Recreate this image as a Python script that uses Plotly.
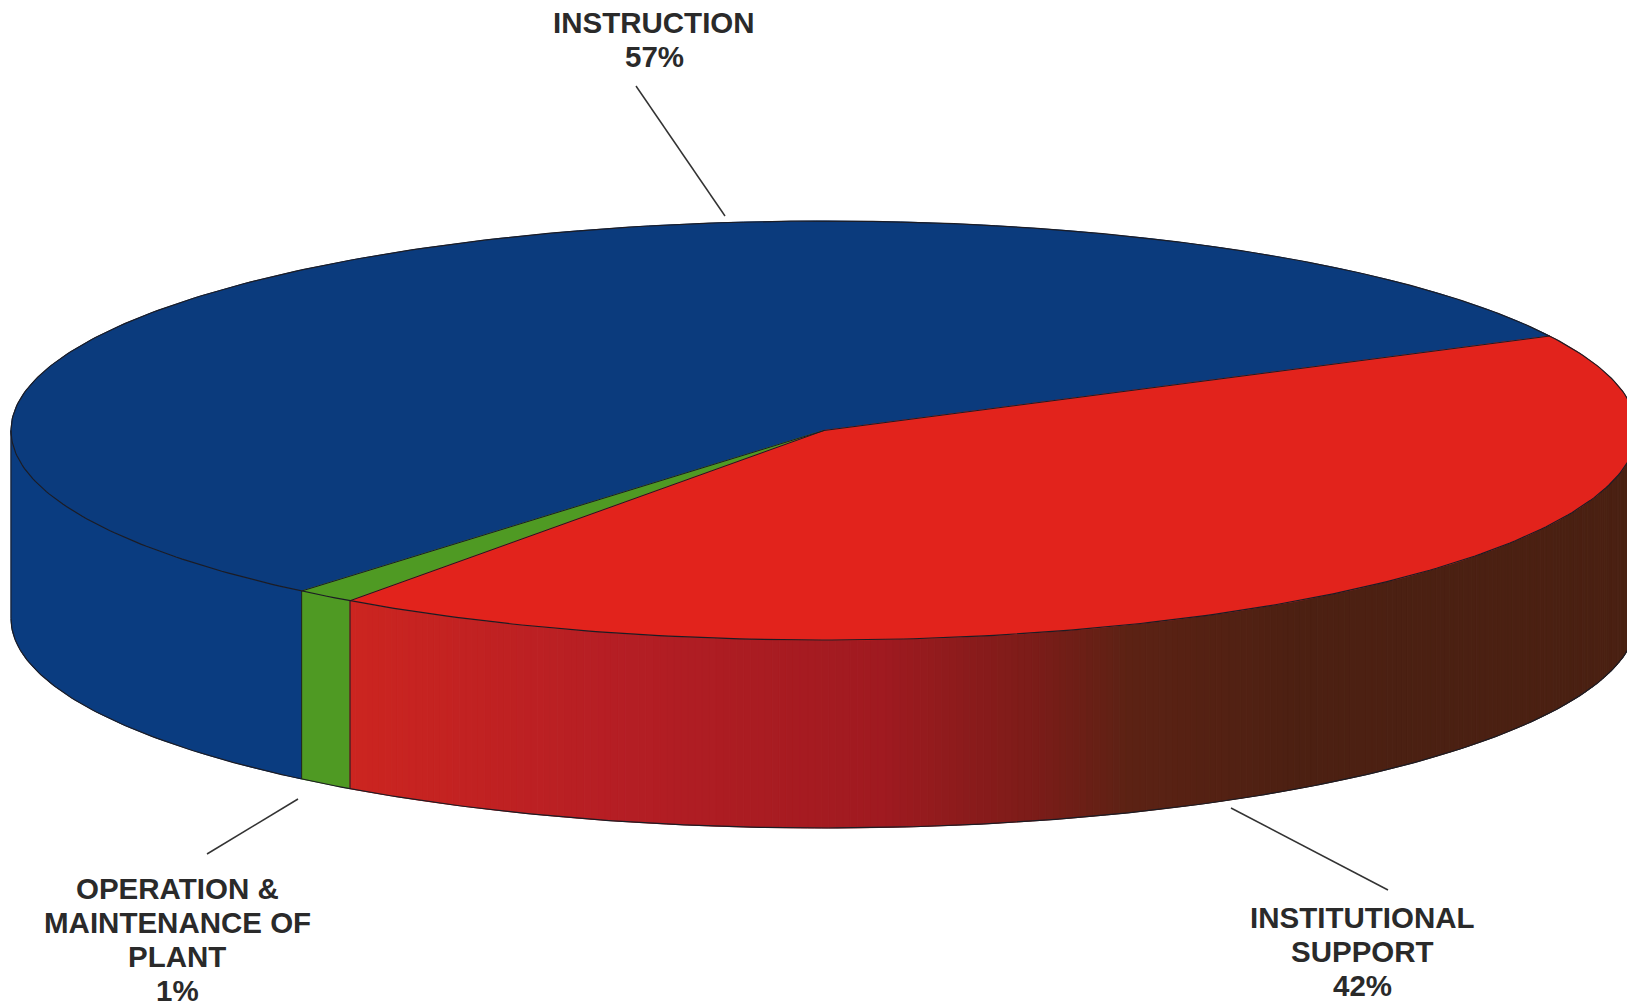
# plot.py - tilted 3D style pie of spending shares

import numpy as np
import plotly.graph_objects as go


# ---------------------------------------------------------
# DATA
# ---------------------------------------------------------

categories = ["INSTRUCTION", "OPERATION & MAINTENANCE OF PLANT", "INSTITUTIONAL SUPPORT"]
slice_shares = [56.45, 1.2, 42.35]
top_colors = ["#0b3b7d", "#4f9a23", "#e2231c"]
side_colors = ["#0a3c80", "#4f9a23", None]

label_lines = [
    ["INSTRUCTION", "57%"],
    ["OPERATION &", "MAINTENANCE OF", "PLANT", "1%"],
    ["INSTITUTIONAL", "SUPPORT", "42%"],
]
label_x = [654, 177, 1362]
label_y = [22, 888, 917]

leader_x = [[636, 725], [207, 298], [1231, 1388]]
leader_y = [[86, 216], [854, 799], [808, 890]]

# shading along the front of the red slice
red_side_x = [350, 620, 880, 1040, 1130, 1300, 1640]
red_side_r = [204, 181, 160, 122, 92, 76, 74]
red_side_g = [37, 30, 26, 28, 34, 32, 32]
red_side_b = [32, 36, 32, 24, 20, 18, 18]


# ---------------------------------------------------------
# GEOMETRY
# ---------------------------------------------------------

WIDTH = 1627
HEIGHT = 1005
CX = 824
CY = 430.5
RX = 813
RY = 209.5
DEPTH = 188
START_ANGLE = 26.8
EDGE = "#1c1c24"
TEXT = "#2a2a2a"
LINE_HEIGHT = 34


def ellipse(angles, drop=0):
    rad = np.radians(angles)
    return CX + RX * np.cos(rad), CY - RY * np.sin(rad) + drop


def red_shade(x):
    r = np.interp(x, red_side_x, red_side_r)
    g = np.interp(x, red_side_x, red_side_g)
    b = np.interp(x, red_side_x, red_side_b)
    return f"rgb({r:.0f},{g:.0f},{b:.0f})"


def side_wall(a0, a1):
    xt, yt = ellipse(np.linspace(a0, a1, 60))
    xb, yb = ellipse(np.linspace(a1, a0, 60), DEPTH)
    return np.r_[xt, xb, xt[0]], np.r_[yt, yb, yt[0]]


def add_filled(fig, x, y, color, line_color=None):
    fig.add_trace(go.Scatter(
        x=x, y=y, mode="lines", fill="toself", fillcolor=color,
        line={"color": line_color or color, "width": 1},
        hoverinfo="skip", showlegend=False
    ))


def add_edge(fig, x, y, width=1.2):
    fig.add_trace(go.Scatter(
        x=x, y=y, mode="lines",
        line={"color": EDGE, "width": width},
        hoverinfo="skip", showlegend=False
    ))


spans = np.array(slice_shares) / sum(slice_shares) * 360
bounds = START_ANGLE + np.r_[0, np.cumsum(spans)]

fig = go.Figure()


# ---------------------------------------------------------
# FRONT WALL
# ---------------------------------------------------------

add_filled(fig, *side_wall(180, bounds[1]), side_colors[0])
add_filled(fig, *side_wall(bounds[1], bounds[2]), side_colors[1])

band_edges = np.arange(bounds[2], 360.01, 0.5)
for a0, a1 in zip(band_edges[:-1], band_edges[1:]):
    bx, _ = ellipse(np.array([(a0 + a1) / 2]))
    add_filled(fig, *side_wall(a0, a1), red_shade(bx[0]))


# ---------------------------------------------------------
# TOP FACE
# ---------------------------------------------------------

for i in range(len(categories)):
    arc = np.linspace(bounds[i], bounds[i + 1], 240)
    ax, ay = ellipse(arc)
    add_filled(fig, np.r_[CX, ax, CX], np.r_[CY, ay, CY], top_colors[i])

for angle in bounds[:3]:
    ex, ey = ellipse(np.array([angle]))
    add_edge(fig, [CX, ex[0]], [CY, ey[0]], 1)

# outlines of the disc
ax, ay = ellipse(np.linspace(0, 360, 500))
add_edge(fig, ax, ay)
ax, ay = ellipse(np.linspace(180, 360, 300), DEPTH)
add_edge(fig, ax, ay)
for angle in [180, bounds[1], bounds[2], 360]:
    ex, ey = ellipse(np.array([angle]))
    add_edge(fig, [ex[0], ex[0]], [ey[0], ey[0] + DEPTH], 1)


# ---------------------------------------------------------
# LEADER LINES AND LABELS
# ---------------------------------------------------------

for lx, ly in zip(leader_x, leader_y):
    fig.add_trace(go.Scatter(
        x=lx, y=ly, mode="lines",
        line={"color": "#333333", "width": 1.5},
        hoverinfo="skip", showlegend=False
    ))

for lines, x, y in zip(label_lines, label_x, label_y):
    for n, text in enumerate(lines):
        fig.add_annotation(
            x=x, y=y + n * LINE_HEIGHT, text=f"<b>{text}</b>", showarrow=False,
            font={"family": "Liberation Sans", "size": 29.5, "color": TEXT},
            xanchor="center", yanchor="middle"
        )

fig.update_layout(
    width=WIDTH,
    height=HEIGHT,
    margin={"l": 0, "r": 0, "t": 0, "b": 0},
    paper_bgcolor="white",
    plot_bgcolor="white",
    xaxis={"range": [0, WIDTH], "visible": False, "fixedrange": True},
    yaxis={"range": [HEIGHT, 0], "visible": False, "fixedrange": True},
)

fig.write_html(
    "out.html",
    config={"displayModeBar": False},
    post_script="document.body.style.margin='0';"
)
